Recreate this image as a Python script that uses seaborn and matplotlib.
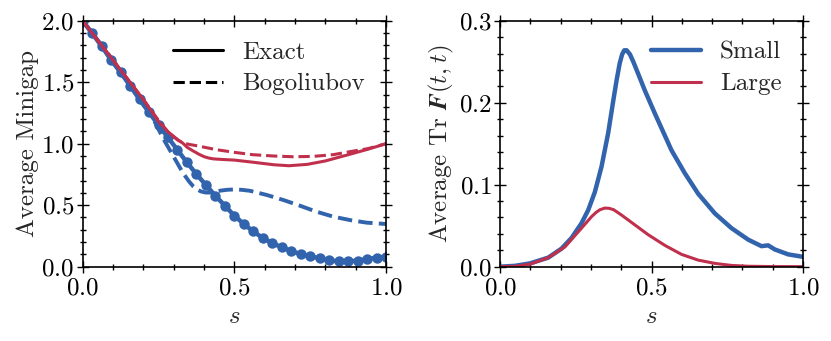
import numpy as np
import pandas as pd
import matplotlib
matplotlib.use("Agg")
import matplotlib.pyplot as plt
from matplotlib.lines import Line2D
from matplotlib.ticker import MultipleLocator
import seaborn as sns

# Left panel: average minigap
s_exact_small = np.linspace(0, 1, 33)
gap_exact_small = [2.0, 1.897, 1.794, 1.680, 1.580, 1.472, 1.360, 1.255, 1.152, 1.051,
                   0.949, 0.848, 0.753, 0.664, 0.577, 0.496, 0.415, 0.347, 0.287, 0.233,
                   0.192, 0.157, 0.127, 0.103, 0.084, 0.068, 0.051, 0.043, 0.043, 0.049,
                   0.062, 0.073, 0.081]

s_bog_small = [0.0, 0.05, 0.1, 0.15, 0.2, 0.233, 0.266, 0.3, 0.33, 0.35, 0.365, 0.377, 0.39,
               0.405, 0.42, 0.437, 0.453, 0.475, 0.497, 0.525, 0.552, 0.607, 0.662, 0.716,
               0.771, 0.826, 0.881, 0.936, 1.0]
gap_bog_small = [2.0, 1.84, 1.68, 1.51, 1.33, 1.20, 1.04, 0.894, 0.765, 0.695, 0.652, 0.628,
                 0.612, 0.603, 0.603, 0.61, 0.618, 0.625, 0.628, 0.625, 0.617, 0.583, 0.542,
                 0.496, 0.447, 0.407, 0.379, 0.358, 0.347]

s_exact_large = [0.0, 0.05, 0.1, 0.15, 0.2, 0.25, 0.28, 0.3, 0.315, 0.33, 0.345, 0.365,
                 0.383, 0.4, 0.415, 0.43, 0.46, 0.5, 0.56, 0.63, 0.68, 0.74, 0.8, 0.87, 0.94,
                 1.0]
gap_exact_large = [2.0, 1.84, 1.68, 1.52, 1.36, 1.18, 1.10, 1.06, 1.03, 1.005, 0.97, 0.94,
                   0.915, 0.895, 0.884, 0.877, 0.872, 0.867, 0.85, 0.829, 0.821, 0.832, 0.86,
                   0.907, 0.955, 1.0]

s_bog_large = [0.0, 0.05, 0.1, 0.15, 0.2, 0.25, 0.28, 0.3, 0.315, 0.33, 0.35, 0.38, 0.44,
               0.5, 0.56, 0.63, 0.695, 0.76, 0.826, 0.88, 0.94, 1.0]
gap_bog_large = [2.0, 1.84, 1.68, 1.52, 1.36, 1.19, 1.10, 1.055, 1.027, 1.008, 0.995, 0.982,
                 0.952, 0.93, 0.911, 0.90, 0.894, 0.897, 0.911, 0.935, 0.96, 1.0]

# Right panel: average Tr F(t,t)
s_tr = [0.0, 0.049, 0.099, 0.159, 0.203, 0.236, 0.269, 0.291, 0.313, 0.335, 0.357, 0.374,
        0.385, 0.395, 0.403, 0.41, 0.418, 0.429, 0.44, 0.451, 0.478, 0.511, 0.533, 0.566,
        0.610, 0.654, 0.709, 0.764, 0.819, 0.863, 0.885, 0.907, 0.951, 1.0]
tr_small = [0.0, 0.001, 0.004, 0.011, 0.022, 0.035, 0.053, 0.069, 0.091, 0.122, 0.163, 0.203,
            0.228, 0.248, 0.259, 0.264, 0.264, 0.259, 0.25, 0.240, 0.215, 0.187, 0.169, 0.142,
            0.114, 0.089, 0.065, 0.047, 0.033, 0.025, 0.026, 0.021, 0.015, 0.012]

s_tr_large = [0.0, 0.049, 0.099, 0.159, 0.214, 0.269, 0.302, 0.318, 0.330, 0.346, 0.36,
              0.375, 0.401, 0.445, 0.489, 0.544, 0.599, 0.654, 0.709, 0.764, 0.819, 0.9, 1.0]
tr_large = [0.0, 0.0004, 0.003, 0.011, 0.024, 0.047, 0.061, 0.0665, 0.0695, 0.0715, 0.0712,
            0.0695, 0.063, 0.051, 0.039, 0.026, 0.015, 0.008, 0.004, 0.0015, 0.0005, 0.0001,
            0.0]

blue = "#3263ad"
red = "#c0304c"

sns.set_style("ticks")
plt.rcParams["font.family"] = "serif"
plt.rcParams["font.serif"] = ["cmr10", "DejaVu Serif"]
plt.rcParams["mathtext.fontset"] = "cm"
plt.rcParams["axes.formatter.use_mathtext"] = True
fs = 18
plt.rcParams["font.size"] = fs

fig = plt.figure(figsize=(8.31, 3.41), dpi=100)
ax1 = fig.add_axes([0.0995, 0.218, 0.365, 0.721])
ax2 = fig.add_axes([0.6017, 0.218, 0.3646, 0.721])

sns.lineplot(x=s_exact_small, y=gap_exact_small, ax=ax1, color=blue, lw=3.2,
             marker="o", markersize=7.5, markeredgewidth=0)
sns.lineplot(x=s_bog_small, y=gap_bog_small, ax=ax1, color=blue, lw=2.8, linestyle="--")
sns.lineplot(x=s_exact_large, y=gap_exact_large, ax=ax1, color=red, lw=2.2)
sns.lineplot(x=s_bog_large, y=gap_bog_large, ax=ax1, color=red, lw=2.2, linestyle="--")

sns.lineplot(x=s_tr, y=tr_small, ax=ax2, color=blue, lw=3.2, label="Small")
sns.lineplot(x=s_tr_large, y=tr_large, ax=ax2, color=red, lw=2.2, label="Large")

leg_kw = dict(loc="upper right", frameon=False, handlelength=2.0, handletextpad=0.75,
              borderaxespad=0.0, labelspacing=0.37, fontsize=fs)
handles = [Line2D([], [], color="black", lw=2.2, ls="-"),
           Line2D([], [], color="black", lw=2.2, ls="--")]
ax1.legend(handles, ["Exact", "Bogoliubov"], bbox_to_anchor=(0.962, 0.958), **leg_kw)
ax2.legend(bbox_to_anchor=(0.962, 0.958), **leg_kw)

ax1.set_xlim(0, 1)
ax1.set_ylim(0, 2)
ax1.yaxis.set_major_locator(MultipleLocator(0.5))
ax1.yaxis.set_minor_locator(MultipleLocator(0.1))
ax1.set_ylabel("Average Minigap", labelpad=2)

ax2.set_xlim(0, 1)
ax2.set_ylim(0, 0.3)
ax2.yaxis.set_major_locator(MultipleLocator(0.1))
ax2.yaxis.set_minor_locator(MultipleLocator(0.02))
ax2.set_ylabel(r"Average Tr $\mathbfit{F}(t,t)$", labelpad=2)

for ax in (ax1, ax2):
    ax.xaxis.set_major_locator(MultipleLocator(0.5))
    ax.xaxis.set_minor_locator(MultipleLocator(0.1))
    ax.set_xlabel("$s$", labelpad=4)
    ax.tick_params(which="both", direction="inout", top=True, right=True, width=1,
                   colors="black", labelsize=fs)
    ax.tick_params(which="major", length=9)
    ax.tick_params(which="minor", length=5)
    ax.tick_params(axis="y", which="major", pad=1.5)
    ax.tick_params(axis="x", which="major", pad=3.5)
    for sp in ax.spines.values():
        sp.set_linewidth(1.2)
        sp.set_color("black")

fig.savefig("out.png", dpi=100)
